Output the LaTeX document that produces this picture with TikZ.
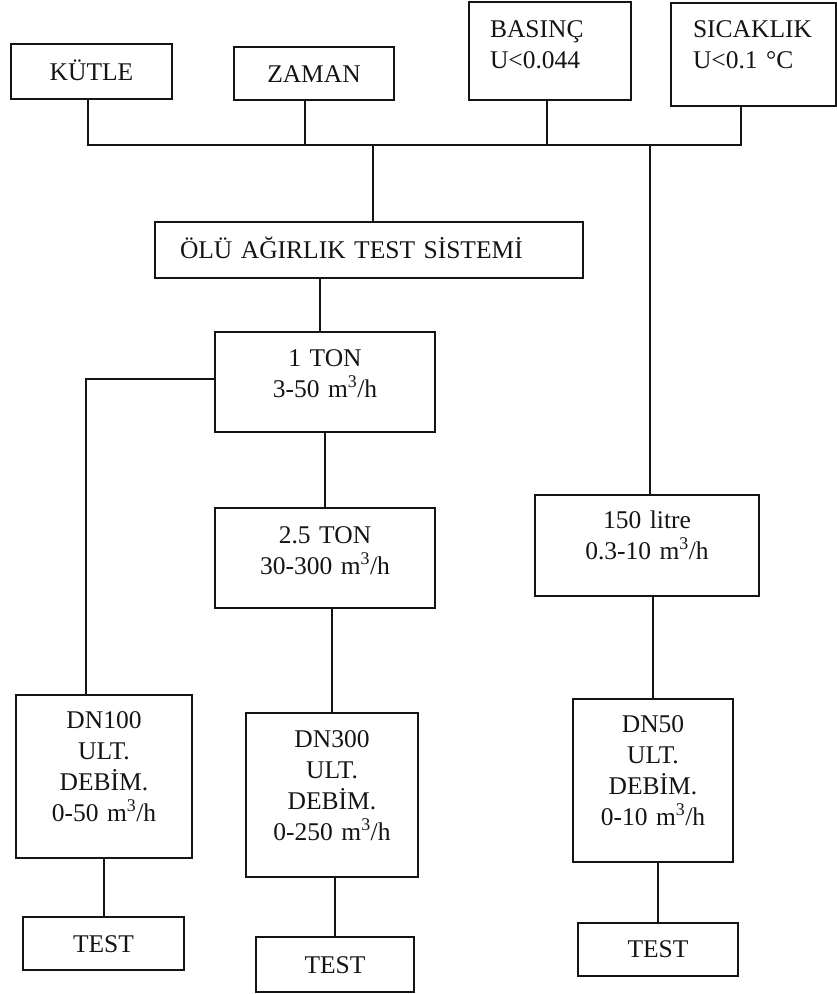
\documentclass[tikz,border=0pt]{standalone}
\usepackage{fontspec}
\setmainfont{Liberation Serif}
\usetikzlibrary{calc,positioning}
\definecolor{Ink}{HTML}{141414}

\begin{document}
\begin{tikzpicture}[
  x=1pt,y=-1pt,
  box/.style={draw=Ink,line width=1.5pt,inner sep=0pt,align=center,text=Ink,
    font=\fontsize{25.5}{31}\selectfont,text height=17pt},
  wire/.style={draw=Ink,line width=1.5pt}
]
\useasboundingbox (0,0) rectangle (837,994);
% top row
\node[box,minimum width=161pt,minimum height=55pt,text depth=0pt] (kutle) at (91.5,71.5) {KÜTLE};
\node[box,minimum width=160pt,minimum height=53pt,text depth=0pt] (zaman) at (314,73.5) {ZAMAN};
\node[box,minimum height=98pt,text width=120pt,inner xsep=21pt,align=left,text depth=45pt] (basinc) at (550,51) {BASINÇ\\U<0.044};
\node[box,minimum height=103pt,text width=121pt,inner xsep=22pt,align=left,text depth=52pt] (sicaklik) at (753.5,54.5) {SICAKLIK\\U<0.1 °C};
% bus
\coordinate (bl) at (88,145); \coordinate (bz) at (305,145); \coordinate (bo) at (373,145);
\coordinate (bb) at (547,145); \coordinate (bt) at (650,145); \coordinate (br) at (741,145);
\draw[wire] (bl |- kutle.south) -- (bl) -- (br) -- (br |- sicaklik.south);
\draw[wire] (bz) -- (bz |- zaman.south);
\draw[wire] (bb) -- (bb |- basinc.south);
% test system
\node[box,minimum height=56pt,text width=378pt,inner xsep=25pt,align=left,text depth=0pt] (olu) at (369,250) {ÖLÜ AĞIRLIK TEST SİSTEMİ};
\draw[wire] (bo) -- (bo |- olu.north);
\node[box,text width=220pt,minimum height=100pt,text depth=49pt] (ton1) at (325,382) {1 TON\\3-50 m\textsuperscript{3}/h};
\node[box,text width=220pt,minimum height=100pt,text depth=47pt] (ton25) at (325,558) {2.5 TON\\30-300 m\textsuperscript{3}/h};
\node[box,text width=224pt,minimum height=101pt,text depth=52pt] (litre) at (647,545.5) {150 litre\\0.3-10 m\textsuperscript{3}/h};
\draw[wire] ([xshift=-5pt]ton1.north) -- ([xshift=-5pt]ton1.north |- olu.south);
\draw[wire] (ton1.south) -- (ton25.north);
\draw[wire] (bt) -- (bt |- litre.north);
% meters
\node[box,text width=176pt,minimum height=163pt,text depth=114pt] (dn100) at (104,776.5) {DN100\\ULT.\\DEBİM.\\0-50 m\textsuperscript{3}/h};
\node[box,text width=172pt,minimum height=164pt,text depth=113pt] (dn300) at (332,795) {DN300\\ULT.\\DEBİM.\\0-250 m\textsuperscript{3}/h};
\node[box,text width=160pt,minimum height=163pt,text depth=114pt] (dn50) at (653,780.5) {DN50\\ULT.\\DEBİM.\\0-10 m\textsuperscript{3}/h};
\coordinate (cl) at (86,379);
\draw[wire] (ton1.west |- cl) -- (cl) -- (cl |- dn100.north);
\draw[wire] (dn300.north) -- (dn300.north |- ton25.south);
\draw[wire] (dn50.north) -- (dn50.north |- litre.south);
% tests
\node[box,minimum width=161pt,minimum height=53pt,text depth=0pt] (test1) at (103.5,943.5) {TEST};
\node[box,minimum width=158pt,minimum height=55pt,text depth=-4pt] (test2) at (335,964.5) {TEST};
\node[box,minimum width=160pt,minimum height=53pt,text depth=2pt] (test3) at (658,949.5) {TEST};
\draw[wire] (dn100.south) -- (dn100.south |- test1.north);
\draw[wire] (test2.north) -- (test2.north |- dn300.south);
\draw[wire] (test3.north) -- (test3.north |- dn50.south);
\end{tikzpicture}
\end{document}
